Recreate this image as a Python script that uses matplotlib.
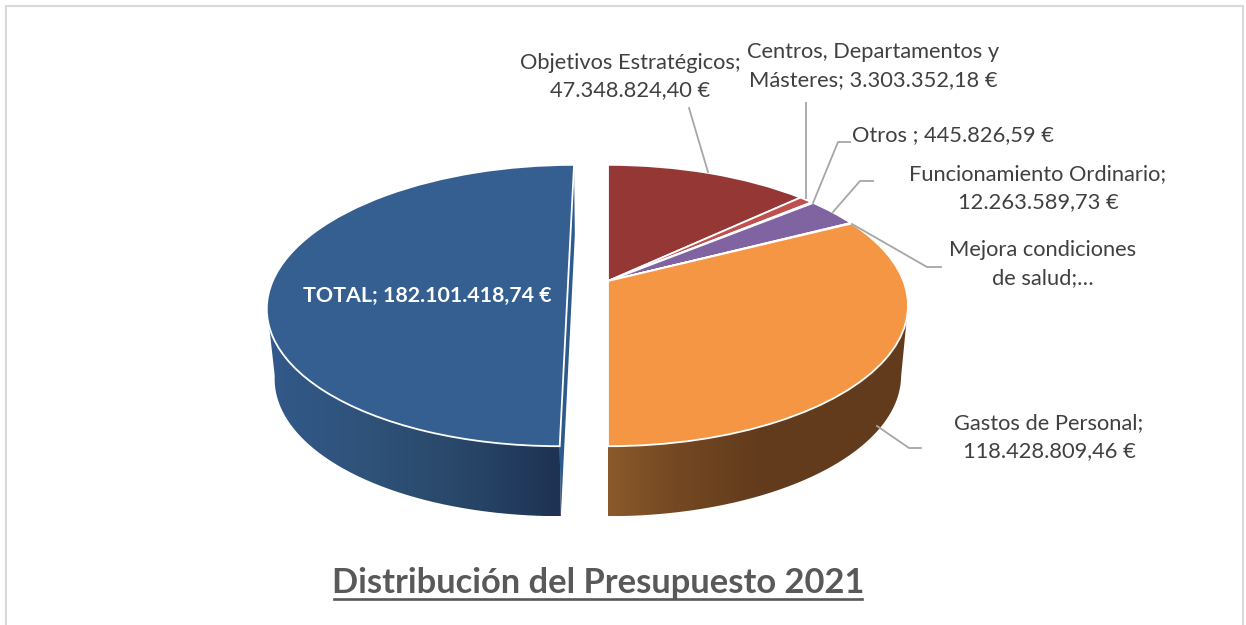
import numpy as np
import matplotlib
matplotlib.use("Agg")
import matplotlib.pyplot as plt
from matplotlib.colors import LinearSegmentedColormap
from matplotlib.patches import PathPatch
from matplotlib.path import Path
from matplotlib.transforms import Transform

plt.rcParams['font.family'] = ['Lato', 'DejaVu Sans']

# ---------- data ----------
categories = ["Objetivos Estratégicos", "Centros, Departamentos y Másteres", "Otros ",
              "Funcionamiento Ordinario", "Mejora condiciones de salud",
              "Gastos de Personal", "TOTAL"]
values = [47348824.40, 3303352.18, 445826.59, 12263589.73, 311016.38,
          118428809.46, 182101418.74]
slice_colors = ["#953735", "#c0504d", "#9bbb59", "#8064a2", "#4bacc6", "#f49644", "#355f90"]
explode = [0, 0, 0, 0, 0, 0, 0.135]
title = "Distribución del Presupuesto 2021"


def euro(v):
    s = f"{v:,.2f}".replace(",", "X").replace(".", ",").replace("X", ".")
    return s + " €"


# ---------- perspective of the tilted disc, in figure pixels ----------
X0, Y0 = 608.0, 281.0
RX, A, C = 295.4, 136.4, 0.1744
DEPTH, SHRINK = 70.0, 0.977


def project(uv, depth=0.0, shrink=1.0):
    uv = np.asarray(uv, dtype=float)
    w = 1 + C * uv[..., 1]
    return np.stack([X0 + shrink * RX * uv[..., 0] / w,
                     Y0 + depth - A * uv[..., 1] / w], axis=-1)


class DiscTransform(Transform):
    input_dims = output_dims = 2
    is_separable = False
    has_inverse = False

    def transform_non_affine(self, values):
        return project(values)


fig = plt.figure(figsize=(12.46, 6.25), dpi=100, facecolor="white")
ax = fig.add_axes([0, 0, 1, 1])

wedges, _ = ax.pie(values, colors=slice_colors, explode=explode, startangle=90,
                   counterclock=False, radius=1.0, frame=False,
                   wedgeprops=dict(edgecolor="#ffffff", linewidth=1.3, zorder=5))
disc = DiscTransform()
for w in wedges:
    w.set_transform(disc + ax.transData)
    w.set_clip_on(False)

ax.set_aspect("auto")


def side_wall(wedge, stops):
    """Front wall of a wedge, with a horizontal gradient."""
    th = np.radians(np.linspace(wedge.theta1, wedge.theta2, 600))
    th = th[np.sin(th) <= -C]
    cx, cy = wedge.center
    uv = np.stack([cx + wedge.r * np.cos(th), cy + wedge.r * np.sin(th)], axis=-1)
    top, low = project(uv), project(uv, DEPTH, SHRINK)
    poly = np.vstack([top, low[::-1]])
    cmap = LinearSegmentedColormap.from_list("wall", stops)
    grad = np.linspace(0, 1, 256).reshape(1, -1)
    x0, x1, y0, y1 = poly[:, 0].min(), poly[:, 0].max(), poly[:, 1].min(), poly[:, 1].max()
    im = ax.imshow(grad, cmap=cmap, extent=(x0, x1, y1, y0), aspect="auto",
                   interpolation="bilinear", zorder=2)
    clip = PathPatch(Path(np.vstack([poly, poly[:1]])), facecolor="none",
                     edgecolor="none", transform=ax.transData)
    ax.add_patch(clip)
    im.set_clip_path(clip)


# Gastos de Personal wall (lighter at the cut, then dark)
side_wall(wedges[5], [(0, "#8a5a2b"), (0.22, "#744822"), (0.5, "#633c1d"), (1, "#623a1c")])
# TOTAL wall
side_wall(wedges[6], [(0, "#32598a"), (0.35, "#2f5279"), (0.65, "#294769"),
                      (0.85, "#223b5e"), (1, "#1e3251")])

# Cut face of the exploded TOTAL slice
cx = wedges[6].center[0]
v = np.linspace(1, -1, 60)
edge = np.stack([np.full_like(v, cx), v], axis=-1)
cut = np.vstack([project(edge), project(edge, DEPTH, SHRINK)[::-1]])
ax.fill(cut[:, 0], cut[:, 1], color="#2c5a8c", lw=0, zorder=1)

ax.set_xlim(0, 1246)
ax.set_ylim(625, 0)
ax.axis("off")

# ---------- chart frame ----------
ax.plot([6, 6, 1243, 1243], [625, 6, 6, 625], color="#d9d9d9", lw=1.5, zorder=0,
        solid_joinstyle="miter")

# ---------- leader lines ----------
leaders = [
    ([689, 708], [108, 172]),
    ([806, 806], [103, 198]),
    ([850, 838, 813], [142, 142, 203]),
    ([873, 860, 833], [181, 181, 212]),
    ([941, 927, 852], [267, 267, 224]),
    ([921, 909, 877], [448, 448, 426]),
]
for xs, ys in leaders:
    ax.plot(xs, ys, color="#a6a6a6", lw=1.3, zorder=6)

# ---------- labels ----------
LABEL = "#404040"
FS = 15.75
labels = [
    (630, 76.5, f"{categories[0]};\n{euro(values[0])}"),
    (873, 66, f"Centros, Departamentos y\nMásteres; {euro(values[1])}"),
    (953, 135, f"{categories[2]}; {euro(values[2])}"),
    (1038, 188, f"{categories[3]};\n{euro(values[3])}"),
    (1043, 264, "Mejora condiciones\nde salud;…"),
    (1049, 437, f"{categories[5]};\n{euro(values[5])}"),
]
for x, y, s in labels:
    ax.text(x, y, s, color=LABEL, fontsize=FS, ha="center", va="center",
            linespacing=1.46, zorder=7)
ax.text(427, 296, f"{categories[6]}; {euro(values[6])}", color="white", fontsize=15.4,
        fontweight="bold", ha="center", va="center", zorder=7)

# ---------- title ----------
ax.text(598, 583, title, color="#595959", fontsize=24.8, fontweight="bold",
        ha="center", va="center", zorder=7)
ax.plot([334, 862], [599, 599], color="#595959", lw=1.9, zorder=7)

fig.savefig("out.png", dpi=100, facecolor="white")
